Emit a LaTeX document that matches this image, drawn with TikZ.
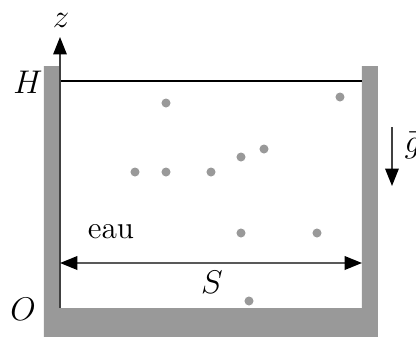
\documentclass[tikz,border=0pt]{standalone}
\usetikzlibrary{arrows.meta}
\definecolor{wallgray}{HTML}{999999}
\begin{document}
\begin{tikzpicture}[x=0.366pt,y=-0.366pt,
  wall/.style={fill=wallgray,draw=none},
  bulle/.style={circle,fill=wallgray,draw=none,inner sep=0pt,minimum size=3.3pt},
  axe/.style={line width=0.45pt,draw=black!75,-{Triangle[length=6.4pt,width=5pt,color=black,fill=black]}},
  cote/.style={line width=0.7pt,draw=black!65,{Triangle[length=6.4pt,width=5pt,color=black,fill=black]}-{Triangle[length=6.4pt,width=5pt,color=black,fill=black]}},
  lab/.style={inner sep=0pt,font=\fontsize{11.5}{14}\selectfont}]
\useasboundingbox (0,0) rectangle (416,336);
% container walls
\fill[wallgray] (44,66) -- (60,66) -- (60,308) -- (362,308) -- (362,66) -- (378,66) -- (378,340) -- (44,340) -- cycle;
% coordinates
\coordinate (o) at (60,308);
\coordinate (ztip) at (60,37);
\coordinate (hl) at (60,81);
\coordinate (hr) at (362,81);
\coordinate (sl) at (60,263);
\coordinate (sr) at (362,263);
\coordinate (g1) at (392,127);
\coordinate (g2) at (392,186);
% lines
\draw[line width=0.45pt] (hl) -- (hr);
\draw[axe] (o) -- (ztip);
\draw[cote] (sl) -- (sr);
\draw[axe] (g1) -- (g2);
% labels
\node[lab] (z) at (61,20) {$z$};
\node[lab] (H) at (28,82) {$H$};
\node[lab] (O) at (23,309) {$O$};
\node[lab] (S) at (212,282) {$S$};
\node[lab] (eau) at (111,232) {eau};
\node[lab,anchor=base west] (g) at (404,152) {$\vec{g}$};
% particles
\node[bulle] (p1) at (166,103) {};
\node[bulle] (p2) at (340,97) {};
\node[bulle] (p3) at (135,172) {};
\node[bulle] (p4) at (166,172) {};
\node[bulle] (p5) at (211,172) {};
\node[bulle] (p6) at (241,157) {};
\node[bulle] (p7) at (264,149) {};
\node[bulle] (p8) at (241,233) {};
\node[bulle] (p9) at (317,233) {};
\node[bulle] (p10) at (249,301) {};
\end{tikzpicture}
\end{document}
